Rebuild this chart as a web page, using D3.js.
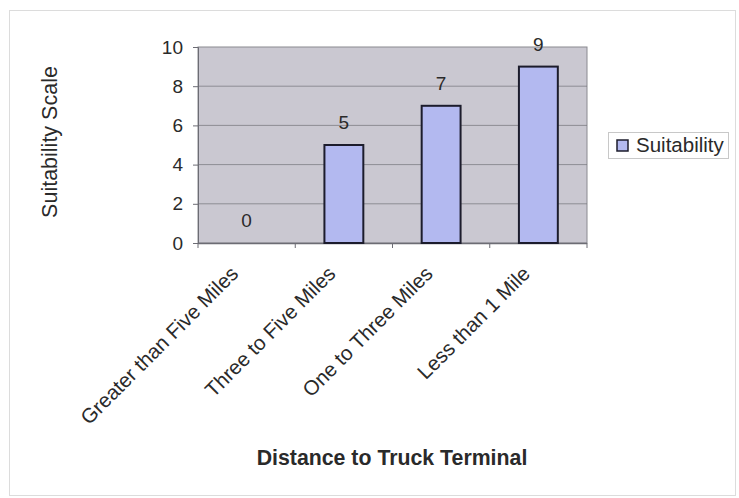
<!DOCTYPE html>
<html>
<head>
<meta charset="utf-8">
<script src="https://cdn.jsdelivr.net/npm/d3@7"></script>
<style>
  html, body { margin: 0; padding: 0; background: #ffffff; }
  svg { display: block; }
</style>
</head>
<body>
<div id="chart"></div>
<script>
// Suitability rating by distance to the nearest truck terminal
const categories = ["Greater than Five Miles", "Three to Five Miles", "One to Three Miles", "Less than 1 Mile"];
const suitability = [0, 5, 7, 9];
const yTicks = [0, 2, 4, 6, 8, 10];
const seriesName = "Suitability";

const W = 739, H = 498;
const plot = { left: 198, right: 587, top: 47, bottom: 243 };
const font = "Liberation Sans, Arial, sans-serif";
const ink = "#2a2a2a";

const svg = d3.select("#chart").append("svg")
  .attr("width", W).attr("height", H);

// outer chart frame
svg.append("rect")
  .attr("x", 9.5).attr("y", 10.5)
  .attr("width", 726).attr("height", 485)
  .attr("fill", "#ffffff").attr("stroke", "#dcdcdc").attr("stroke-width", 1);

const x = d3.scaleBand()
  .domain(categories)
  .range([plot.left, plot.right])
  .paddingInner(0.6).paddingOuter(0.3);

const xOuter = d3.scaleBand()
  .domain(categories)
  .range([plot.left, plot.right]);

const y = d3.scaleLinear().domain([0, 10]).range([plot.bottom, plot.top]);

// plot area background
svg.append("rect")
  .attr("x", plot.left).attr("y", plot.top)
  .attr("width", plot.right - plot.left).attr("height", plot.bottom - plot.top)
  .attr("fill", "#cac8d1").attr("stroke", "#8a8a90").attr("stroke-width", 1);

// horizontal gridlines
svg.append("g").selectAll("line")
  .data(yTicks.filter(t => t > 0 && t < 10))
  .join("line")
  .attr("x1", plot.left).attr("x2", plot.right)
  .attr("y1", d => y(d)).attr("y2", d => y(d))
  .attr("stroke", "#75757c").attr("stroke-width", 1).attr("opacity", 0.7);

// y axis
const yAxis = svg.append("g")
  .attr("transform", `translate(${plot.left},0)`)
  .call(d3.axisLeft(y).tickValues(yTicks).tickSize(5).tickPadding(10));
yAxis.select(".domain").attr("stroke", "#6c6c74");
yAxis.selectAll(".tick line").attr("stroke", "#6c6c74");
yAxis.selectAll(".tick text")
  .attr("font-family", font).attr("font-size", 19).attr("fill", ink);

// x axis (ticks at category boundaries)
const xAxisG = svg.append("g")
  .attr("transform", `translate(0,${plot.bottom})`);
xAxisG.append("line")
  .attr("x1", plot.left).attr("x2", plot.right)
  .attr("y1", 0.5).attr("y2", 0.5)
  .attr("stroke", "#6c6c74").attr("stroke-width", 1.5);
xAxisG.selectAll("line.tk")
  .data(categories.concat([null]))
  .join("line").attr("class", "tk")
  .attr("x1", (d, i) => plot.left + i * xOuter.step())
  .attr("x2", (d, i) => plot.left + i * xOuter.step())
  .attr("y1", 0).attr("y2", 5)
  .attr("stroke", "#6c6c74");

// rotated category labels
svg.append("g").selectAll("text")
  .data(categories)
  .join("text")
  .attr("transform", d => `translate(${xOuter(d) + xOuter.bandwidth() / 2 - 7},${plot.bottom + 32}) rotate(-45)`)
  .attr("text-anchor", "end")
  .attr("font-family", font).attr("font-size", 20.5).attr("fill", ink)
  .text(d => d);

// bars
svg.append("g").selectAll("rect")
  .data(categories)
  .join("rect")
  .attr("x", d => x(d))
  .attr("y", (d, i) => y(suitability[i]))
  .attr("width", x.bandwidth())
  .attr("height", (d, i) => y(0) - y(suitability[i]))
  .attr("fill", "#b3b9f0")
  .attr("stroke", "#1c1c2c").attr("stroke-width", 2)
  .attr("display", (d, i) => suitability[i] > 0 ? null : "none");

// value labels
svg.append("g").selectAll("text")
  .data(categories)
  .join("text")
  .attr("x", d => x(d) + x.bandwidth() / 2)
  .attr("y", (d, i) => y(suitability[i]) - 16)
  .attr("text-anchor", "middle")
  .attr("font-family", font).attr("font-size", 19).attr("fill", ink)
  .text((d, i) => suitability[i]);

// axis titles
svg.append("text")
  .attr("transform", `translate(57,${(plot.top + plot.bottom) / 2 - 3}) rotate(-90)`)
  .attr("text-anchor", "middle")
  .attr("font-family", font).attr("font-size", 21.5).attr("fill", ink)
  .text("Suitability Scale");

svg.append("text")
  .attr("x", 392).attr("y", 465)
  .attr("text-anchor", "middle")
  .attr("font-family", font).attr("font-size", 21.3).attr("font-weight", "bold").attr("fill", ink)
  .text("Distance to Truck Terminal");

// legend
const lg = svg.append("g").attr("transform", "translate(608,132)");
lg.append("rect")
  .attr("x", 0.5).attr("y", 0.5).attr("width", 120).attr("height", 26)
  .attr("fill", "#ffffff").attr("stroke", "#c8c8c8");
lg.append("rect")
  .attr("x", 9).attr("y", 8).attr("width", 11).attr("height", 11)
  .attr("fill", "#b3b9f0").attr("stroke", "#1c1c2c").attr("stroke-width", 1.5);
lg.append("text")
  .attr("x", 28).attr("y", 20)
  .attr("font-family", font).attr("font-size", 20.5).attr("fill", ink)
  .text(seriesName);
</script>
</body>
</html>
